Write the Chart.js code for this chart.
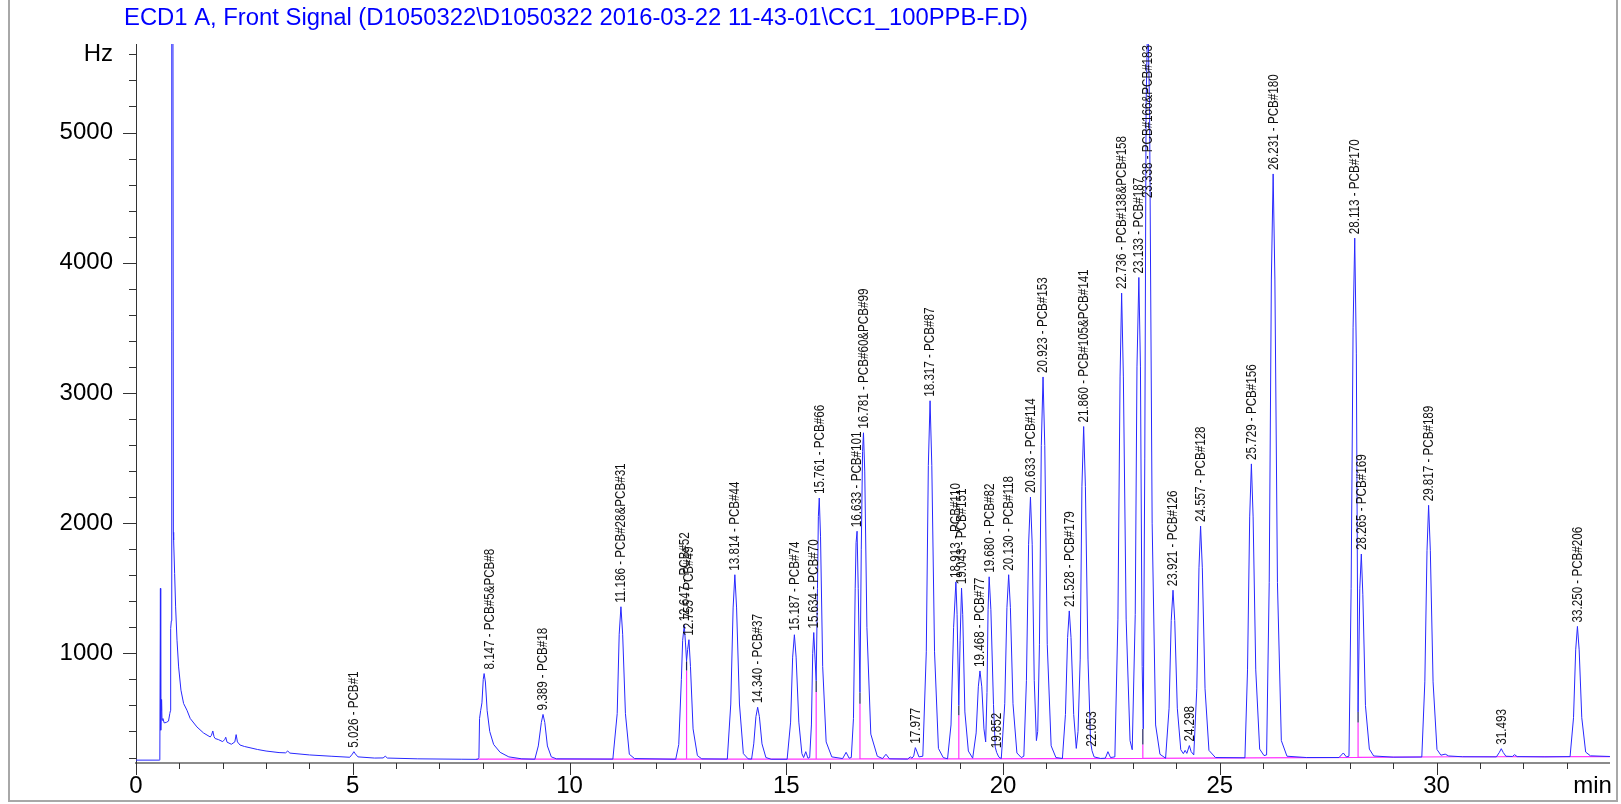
<!DOCTYPE html>
<html><head><meta charset="utf-8">
<script src="https://cdn.jsdelivr.net/npm/chart.js@4/dist/chart.umd.min.js"></script>
<style>html,body{margin:0;padding:0;background:#fff}#wrap{width:1621px;height:804px;position:relative}</style>
</head><body><div id="wrap"><canvas id="c"></canvas></div>
<script>
const titleText = "ECD1 A, Front Signal (D1050322\\D1050322 2016-03-22 11-43-01\\CC1_100PPB-F.D)";
const xTickValues = [0, 5, 10, 15, 20, 25, 30, 33.6];
const xTickLabels = ['0', '5', '10', '15', '20', '25', '30', 'min'];
const yTickValues = [1000, 2000, 3000, 4000, 5000, 5600];
const yTickLabels = ['1000', '2000', '3000', '4000', '5000', 'Hz'];

// detector signal [min, Hz]
const trace = [
[0,180],[0.54,180],[0.55,186],[0.563,1499],[0.57,410],[0.58,560],[0.59,646],[0.60,487],[0.62,500],[0.65,466],[0.70,470],[0.75,480],[0.78,538],[0.795,560],[0.80,1191],[0.815,1250],[0.825,7000],[0.85,7000],[0.862,1930],[0.868,1870],[0.891,1614],[0.914,1357],[0.946,1101],[0.983,896],[1.037,717],[1.098,615],[1.176,563],[1.251,500],[1.405,435],[1.557,389],[1.711,358],[1.74,370],[1.772,404],[1.80,360],[1.825,346],[1.9,338],[2.0,322],[2.05,340],[2.07,356],[2.1,318],[2.2,302],[2.28,320],[2.31,376],[2.34,320],[2.4,296],[2.5,285],[2.8,262],[3.0,250],[3.3,238],[3.45,236],[3.5,250],[3.55,234],[4.0,220],[4.5,210],[4.93,202],[4.99,226],[5.026,245],[5.06,228],[5.12,205],[5.5,196],[5.7,197],[5.75,210],[5.8,196],[6.5,190],[7.5,187],[7.88,186],
[7.91,200],[7.925,500],[7.95,560],[7.98,620],[8.01,800],[8.03,845],[8.06,780],[8.1,560],[8.16,400],[8.25,300],[8.4,240],[8.6,205],[8.9,190],
[9.2,187],[9.28,289],[9.35,469],[9.389,531],[9.43,469],[9.49,289],[9.58,205],[9.7,190],
[11.0,188],[11.1,537],[11.146,1147],[11.186,1358],[11.226,1147],[11.29,537],[11.38,225],[11.5,192],
[12.45,187],[12.52,300],[12.58,800],[12.61,1100],[12.647,1215],[12.675,1080],[12.70,940],[12.725,1030],[12.755,1105],[12.79,900],[12.85,420],[12.95,215],[13.05,190],
[13.64,188],[13.72,611],[13.774,1349],[13.814,1604],[13.854,1349],[13.92,611],[14.01,230],[14.12,190],
[14.20,188],[14.25,305],[14.30,514],[14.34,586],[14.38,514],[14.44,305],[14.53,200],[14.65,187],
[15.02,187],[15.1,472],[15.147,971],[15.187,1143],[15.227,971],[15.29,472],[15.36,230],
[15.40,200],[15.45,245],[15.50,195],
[15.54,200],[15.58,450],[15.61,1000],[15.634,1160],[15.665,950],[15.69,790],[15.72,1500],[15.74,2050],[15.761,2193],[15.79,1900],[15.84,900],[15.92,320],[16.05,205],
[16.3,192],[16.38,240],[16.45,195],
[16.50,200],[16.55,500],[16.59,1500],[16.61,1850],[16.633,1938],[16.66,1500],[16.70,700],[16.73,1800],[16.76,2550],[16.781,2694],[16.81,2400],[16.86,1200],[16.95,380],[17.1,210],
[17.22,192],[17.3,225],[17.38,190],
[17.8,188],[17.86,205],[17.9,195],
[17.94,212],[17.977,276],[18.01,250],[18.06,205],
[18.15,210],[18.23,1012],[18.277,2444],[18.317,2940],[18.357,2444],[18.42,1012],[18.51,270],[18.62,200],
[18.72,190],[18.8,450],[18.86,1200],[18.913,1549],[18.94,1300],[18.98,600],[19.01,1100],[19.043,1501],[19.07,1300],[19.12,550],[19.2,250],[19.3,195],
[19.38,389],[19.43,743],[19.468,865],[19.51,743],[19.56,420],[19.60,320],[19.63,700],[19.655,1335],[19.68,1588],[19.72,1335],[19.78,606],[19.82,280],[19.852,240],[19.9,205],
[19.96,192],[20.04,613],[20.09,1351],[20.13,1604],[20.17,1351],[20.23,613],[20.32,235],[20.42,200],
[20.48,210],[20.54,793],[20.59,1838],[20.633,2200],[20.673,1838],[20.72,793],[20.77,330],
[20.80,400],[20.84,1070],[20.883,2595],[20.923,3123],[20.963,2595],[21.02,1070],[21.11,290],[21.22,200],
[21.37,193],[21.44,531],[21.49,1122],[21.528,1326],[21.568,1122],[21.63,531],[21.69,270],
[21.73,400],[21.78,956],[21.82,2283],[21.86,2742],[21.90,2283],[21.96,956],[22.02,320],[22.053,252],[22.1,205],[22.25,193],
[22.36,195],[22.42,245],[22.48,200],
[22.58,205],[22.65,1263],[22.70,3123],[22.736,3767],[22.776,3123],[22.84,1263],[22.93,330],
[22.98,260],[23.05,1300],[23.09,3200],[23.133,3887],[23.17,3200],[23.21,900],[23.235,420],[23.27,2500],[23.30,5200],[23.338,5950],[23.38,5200],[23.44,2000],[23.52,450],[23.62,225],
[23.75,195],[23.83,579],[23.88,1252],[23.921,1485],[23.961,1252],[24.02,579],[24.1,260],
[24.16,230],[24.2,255],[24.24,232],[24.298,292],[24.34,245],[24.4,220],
[24.47,728],[24.52,1657],[24.557,1978],[24.597,1657],[24.66,728],[24.75,255],[24.9,200],
[25.58,198],[25.64,873],[25.69,2048],[25.729,2455],[25.769,2048],[25.83,873],[25.92,265],[26.02,215],
[26.08,220],[26.14,1543],[26.19,3875],[26.231,4682],[26.271,3875],[26.33,1543],[26.42,330],[26.55,210],
[27.0,200],[27.75,200],[27.85,235],[27.92,205],
[27.98,210],[28.03,1500],[28.075,3500],[28.113,4189],[28.15,3300],[28.19,550],[28.23,1500],[28.265,1763],[28.30,1450],[28.36,600],[28.45,265],[28.55,212],[29.0,203],
[29.66,204],[29.73,781],[29.78,1788],[29.817,2137],[29.857,1788],[29.92,781],[30.01,262],[30.1,218],[30.2,226],[30.28,212],[30.6,206],
[31.38,205],[31.45,240],[31.493,268],[31.54,238],[31.6,210],[31.75,208],[31.8,222],[31.86,207],[32.5,205],
[33.08,207],[33.16,506],[33.21,1027],[33.25,1207],[33.29,1027],[33.35,506],[33.44,242],[33.55,213],[34,208]
];

// integration baseline (pink) with drop lines
const baseline = [
[7.85,188],[12.70,188],[12.70,869],[12.70,188],[15.69,187],[15.69,703],[15.69,187],[16.70,189],[16.70,613],[16.70,189],
[18.98,189],[18.98,524],[18.98,189],[23.225,194],[23.225,300],[23.225,194],[28.19,201],[28.19,470],[28.19,201],[30.5,206],[34,207]
];
// dark upper part of drop lines: [time, from, to]
const dropDark = [[12.70,869,940],[15.69,703,790],[16.70,613,700],[18.98,524,600],[23.225,300,420],[28.19,470,550]];

// peak annotations
const peakTime = [5.026,8.147,9.389,11.186,12.647,12.755,13.814,14.340,15.187,15.634,15.761,16.633,16.781,17.977,18.317,18.913,19.043,19.468,19.680,19.852,20.130,20.633,20.923,21.528,21.860,22.053,22.736,23.133,23.338,23.921,24.298,24.557,25.729,26.231,28.113,28.265,29.817,31.493,33.250];
const peakHz = [245,845,531,1358,1215,1105,1604,586,1143,1160,2193,1938,2694,276,2940,1549,1501,865,1588,240,1604,2200,3123,1326,2742,252,3767,3887,5950,1485,292,1978,2455,4682,4189,1763,2137,268,1207];
const peakName = ["5.026 - PCB#1","8.147 - PCB#5&PCB#8","9.389 - PCB#18","11.186 - PCB#28&PCB#31","12.647 - PCB#52","12.755 - PCB#49","13.814 - PCB#44","14.340 - PCB#37","15.187 - PCB#74","15.634 - PCB#70","15.761 - PCB#66","16.633 - PCB#101","16.781 - PCB#60&PCB#99","17.977","18.317 - PCB#87","18.913 - PCB#110","19.043 - PCB#151","19.468 - PCB#77","19.680 - PCB#82","19.852","20.130 - PCB#118","20.633 - PCB#114","20.923 - PCB#153","21.528 - PCB#179","21.860 - PCB#105&PCB#141","22.053","22.736 - PCB#138&PCB#158","23.133 - PCB#187","23.338 - PCB#166&PCB#183","23.921 - PCB#126","24.298","24.557 - PCB#128","25.729 - PCB#156","26.231 - PCB#180","28.113 - PCB#170","28.265 - PCB#169","29.817 - PCB#189","31.493","33.250 - PCB#206"];

const FONT = "'Liberation Sans', Arial, sans-serif";

const decor = {
  id: 'decor',
  afterDatasetsDraw(chart) {
    const {ctx, chartArea: a, scales: {x, y}} = chart;
    ctx.save();
    // peak labels
    ctx.fillStyle = '#111';
    ctx.font = '14px ' + FONT;
    ctx.textAlign = 'left';
    ctx.textBaseline = 'middle';
    const sx = 0.83;
    for (let i = 0; i < peakTime.length; i++) {
      const px = x.getPixelForValue(peakTime[i]);
      const py = y.getPixelForValue(peakHz[i]);
      const L = ctx.measureText(peakName[i]).width * sx;
      let start = py - 4;
      if (start - L < a.top + 1) start = a.top + 1 + L;
      ctx.save();
      ctx.translate(px + 0.5, start);
      ctx.rotate(-Math.PI / 2);
      ctx.scale(sx, 1);
      ctx.fillText(peakName[i], 0, 0);
      ctx.restore();
    }
    ctx.restore();
  },
  afterDraw(chart) {
    const {ctx, chartArea: a, scales: {x, y}} = chart;
    ctx.save();
    // minor / major ticks
    ctx.strokeStyle = '#333';
    ctx.lineWidth = 1;
    ctx.beginPath();
    for (let v = 200; v <= 5600; v += 200) {
      const py = Math.round(y.getPixelForValue(v)) + 0.5;
      const len = (v % 1000 === 0) ? 13 : 7;
      ctx.moveTo(a.left - len, py); ctx.lineTo(a.left, py);
    }
    for (let t = 0; t <= 33; t += 1) {
      const px = Math.round(x.getPixelForValue(t)) + 0.5;
      const len = (t % 5 === 0) ? 12 : 6;
      ctx.moveTo(px, a.bottom); ctx.lineTo(px, a.bottom + len);
    }
    ctx.stroke();
    // title
    ctx.fillStyle = '#0000ff';
    ctx.font = '23px ' + FONT;
    ctx.textAlign = 'left';
    ctx.textBaseline = 'middle';
    const w = ctx.measureText(titleText).width;
    ctx.save();
    ctx.translate(124, 19);
    ctx.scale(904 / w, 1);
    ctx.fillText(titleText, 0, 0);
    ctx.restore();
    // outer frame
    ctx.strokeStyle = '#a8a8a8';
    ctx.lineWidth = 2;
    ctx.beginPath();
    ctx.moveTo(9, 0); ctx.lineTo(9, 801); ctx.lineTo(1617, 801); ctx.lineTo(1617, 0);
    ctx.stroke();
    ctx.restore();
  }
};

const toXY = arr => arr.map(p => ({x: p[0], y: p[1]}));
const darkPts = [];
dropDark.forEach(d => { darkPts.push({x: d[0], y: d[1]}, {x: d[0], y: d[2]}, {x: d[0], y: null}); });

new Chart(document.getElementById('c'), {
  type: 'line',
  data: {
    datasets: [
      {data: toXY(baseline), borderColor: '#ff33ff', borderWidth: 1.2, pointRadius: 0, tension: 0, order: 3},
      {data: darkPts, borderColor: '#202060', borderWidth: 1.2, pointRadius: 0, tension: 0, spanGaps: false, order: 2},
      {data: toXY(trace), borderColor: 'rgb(40,40,255)', borderWidth: 1, pointRadius: 0, tension: 0, order: 1}
    ]
  },
  options: {
    responsive: true,
    maintainAspectRatio: false,
    animation: false,
    events: [],
    layout: {padding: {top: 44, right: 5, left: 0, bottom: 0}},
    plugins: {legend: {display: false}, tooltip: {enabled: false}, title: {display: false}},
    scales: {
      x: {
        type: 'linear', min: 0, max: 34,
        grid: {display: false, drawTicks: false},
        border: {display: true, color: '#8a8a8a', width: 2},
        afterBuildTicks: s => { s.ticks = xTickValues.map(v => ({value: v})); },
        afterFit: s => { s.height = 41; },
        ticks: {
          autoSkip: false, maxRotation: 0, padding: 9, color: '#000',
          font: {family: FONT, size: 24},
          callback: (v) => { const i = xTickValues.indexOf(v); return i >= 0 ? xTickLabels[i] : ''; }
        }
      },
      y: {
        type: 'linear', min: 158, max: 5680,
        grid: {display: false, drawTicks: false},
        border: {display: true, color: '#333', width: 1},
        afterBuildTicks: s => { s.ticks = yTickValues.map(v => ({value: v})); },
        afterFit: s => { s.width = 136; },
        ticks: {
          autoSkip: false, padding: 23, color: '#000',
          font: {family: FONT, size: 24},
          callback: (v) => { const i = yTickValues.indexOf(v); return i >= 0 ? yTickLabels[i] : ''; }
        }
      }
    }
  },
  plugins: [decor]
});
</script></body></html>
